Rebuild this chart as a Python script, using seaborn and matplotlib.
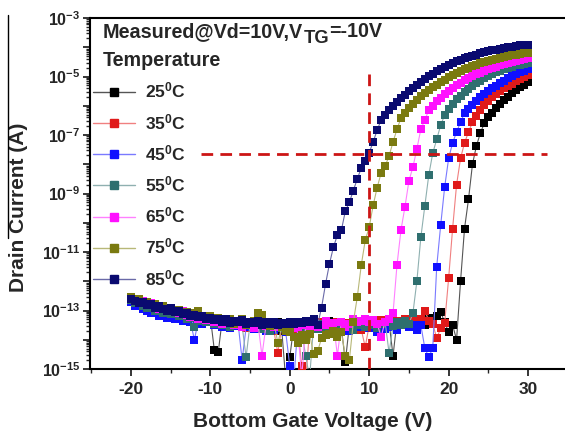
import numpy as np
import pandas as pd
import matplotlib
matplotlib.use("Agg")
import matplotlib.pyplot as plt
from matplotlib.lines import Line2D
from matplotlib.ticker import FixedLocator, LogLocator, NullFormatter, FixedFormatter
import seaborn as sns

# ---------------- data (log10 of drain current, A) ----------------
vg = np.arange(-20, 30.5, 0.5)  # bottom-gate sweep, 0.5 V step

temps = ["25", "35", "45", "55", "65", "75", "85"]

log_id_25 = [
    -12.62, -12.70, -12.78, -12.75, -12.85, -12.90, -12.82, -12.95, -13.00, -12.92,
    -13.05, -12.98, -13.10, -13.15, -13.05, -13.20, -13.12, -13.25, -13.18, -13.30,
    -13.22, -14.35, -14.42, -13.30, -13.40, -13.28, -13.45, -13.35, -13.30, -13.50,
    -13.42, -13.55, -13.38, -13.60, -13.45, -13.50, -13.65, -13.40, -13.70, -15.40,
    -14.60, -13.55, -13.60, -13.48, -13.70, -13.52, -13.45, -13.62, -13.50, -13.40,
    -13.35, -13.55, -13.48, -13.60, -14.75, -13.50, -13.40, -13.55, -13.62, -13.45,
    -13.50, -13.38, -13.55, -13.45, -13.60, -13.40, -14.55, -13.35, -13.48, -13.42,
    -13.40, -13.30, -13.45, -13.35, -13.50, -13.25, -13.38, -13.20, -13.05, -13.40,
    -13.75, -13.50, -14.00, -12.00, -10.20, -9.20, -8.00, -7.37, -6.93, -6.59,
    -6.40, -6.24, -6.09, -5.95, -5.82, -5.70, -5.58, -5.47, -5.37, -5.28,
    -5.19]

log_id_35 = [
    -12.58, -12.72, -12.68, -12.80, -12.88, -12.82, -12.95, -12.90, -13.02, -13.08,
    -13.00, -13.12, -13.18, -13.08, -13.22, -13.15, -13.28, -13.20, -13.35, -13.25,
    -13.30, -13.42, -13.35, -13.48, -13.40, -13.55, -13.38, -13.50, -13.45, -13.60,
    -13.48, -13.40, -13.58, -13.50, -13.65, -13.45, -13.70, -14.45, -13.55, -13.60,
    -13.50, -13.68, -13.55, -14.90, -15.40, -13.62, -13.48, -13.55, -13.40, -13.58,
    -13.45, -13.52, -13.38, -13.60, -13.50, -13.42, -13.55, -13.48, -13.65, -14.25,
    -13.50, -13.38, -13.45, -13.32, -13.50, -13.40, -13.28, -13.45, -13.35, -13.30,
    -13.42, -13.25, -13.38, -13.30, -13.00, -13.35, -13.45, -13.95, -13.60, -13.43,
    -11.90, -10.20, -8.70, -7.80, -7.27, -6.90, -6.56, -6.34, -6.15, -5.98,
    -5.83, -5.70, -5.59, -5.49, -5.40, -5.32, -5.24, -5.16, -5.09, -5.02,
    -4.95]

log_id_45 = [
    -12.70, -12.85, -12.80, -12.95, -13.00, -13.10, -13.05, -13.20, -13.15, -13.25,
    -13.18, -13.30, -13.22, -13.35, -13.28, -13.40, -14.00, -13.32, -13.45, -13.30,
    -13.38, -13.50, -13.42, -13.55, -13.48, -13.60, -13.52, -13.45, -14.70, -13.58,
    -13.50, -13.62, -13.45, -13.58, -13.70, -13.52, -13.65, -13.48, -13.60, -13.75,
    -14.90, -15.40, -13.60, -13.52, -13.68, -13.45, -13.58, -13.50, -13.62, -13.40,
    -13.55, -13.48, -13.62, -13.42, -13.55, -13.70, -13.50, -13.38, -13.55, -13.45,
    -13.60, -13.52, -13.75, -13.45, -13.62, -13.40, -13.55, -13.68, -13.50, -13.42,
    -13.55, -13.48, -13.65, -13.50, -14.28, -14.60, -14.28, -11.50, -10.08, -8.78,
    -7.80, -7.27, -6.90, -6.56, -6.25, -6.10, -5.96, -5.83, -5.71, -5.60,
    -5.50, -5.40, -5.31, -5.22, -5.14, -5.06, -4.99, -4.92, -4.86, -4.80,
    -4.74]

log_id_55 = [
    -12.65, -12.75, -12.70, -12.85, -12.92, -12.88, -13.00, -12.95, -13.08, -13.02,
    -13.12, -13.05, -13.20, -13.15, -13.30, -13.25, -13.55, -13.35, -13.28, -13.40,
    -13.32, -13.45, -13.38, -13.50, -13.42, -13.55, -13.48, -13.40, -13.52, -14.60,
    -13.45, -13.58, -13.50, -13.62, -13.48, -13.70, -13.55, -13.45, -13.60, -13.52,
    -13.65, -13.50, -13.58, -13.70, -14.55, -15.30, -13.50, -13.62, -13.45, -13.55,
    -13.48, -13.60, -13.52, -13.40, -13.58, -13.45, -13.65, -13.50, -13.38, -13.55,
    -13.42, -13.50, -13.60, -13.45, -13.38, -14.45, -13.52, -13.40, -13.48, -13.35,
    -13.45, -13.10, -12.00, -10.50, -9.43, -8.37, -7.62, -7.15, -6.66, -6.32,
    -6.10, -5.93, -5.78, -5.65, -5.53, -5.42, -5.32, -5.23, -5.14, -5.06,
    -4.99, -4.92, -4.86, -4.80, -4.75, -4.70, -4.66, -4.62, -4.59, -4.56,
    -4.54]

log_id_65 = [
    -12.55, -12.65, -12.72, -12.68, -12.80, -12.75, -12.88, -12.95, -12.85, -13.00,
    -12.95, -13.05, -13.10, -13.00, -13.15, -13.22, -13.12, -13.28, -13.20, -13.32,
    -13.25, -13.38, -13.30, -13.45, -13.40, -13.32, -13.50, -13.42, -13.55, -13.38,
    -13.48, -13.60, -13.45, -14.55, -13.52, -13.40, -13.58, -13.50, -13.42, -13.62,
    -13.55, -13.45, -13.60, -15.30, -13.50, -13.62, -13.40, -13.55, -13.48, -13.35,
    -13.50, -13.42, -14.55, -13.38, -13.55, -13.45, -13.30, -13.40, -13.35, -13.28,
    -13.40, -13.32, -13.45, -13.90, -13.38, -13.30, -13.10, -11.44, -10.25, -9.46,
    -8.57, -8.10, -7.48, -6.80, -6.49, -6.15, -6.00, -5.85, -5.72, -5.60,
    -5.49, -5.39, -5.30, -5.21, -5.13, -5.06, -4.99, -4.93, -4.87, -4.81,
    -4.76, -4.71, -4.66, -4.62, -4.58, -4.54, -4.50, -4.46, -4.43, -4.40,
    -4.37]

log_id_75 = [
    -12.55, -12.65, -12.62, -12.75, -12.70, -12.82, -12.78, -12.88, -12.85, -12.95,
    -12.90, -13.02, -12.98, -13.10, -13.05, -13.15, -13.10, -13.00, -13.20, -13.25,
    -13.18, -13.30, -13.25, -13.40, -13.32, -13.28, -13.45, -13.35, -13.30, -13.48,
    -13.40, -13.35, -13.10, -13.15, -13.38, -13.52, -13.42, -14.10, -13.55, -13.70,
    -13.75, -13.90, -14.10, -13.85, -14.00, -13.80, -14.50, -14.40, -13.95, -13.85,
    -13.80, -13.70, -13.90, -13.75, -14.55, -14.70, -13.40, -12.54, -11.45, -10.60,
    -10.15, -9.40, -8.80, -8.30, -8.06, -7.72, -7.24, -6.80, -6.42, -6.25,
    -6.08, -5.93, -5.80, -5.68, -5.57, -5.47, -5.37, -5.28, -5.19, -5.11,
    -5.03, -4.96, -4.89, -4.82, -4.76, -4.70, -4.65, -4.60, -4.55, -4.51,
    -4.47, -4.43, -4.39, -4.36, -4.33, -4.30, -4.27, -4.25, -4.23, -4.21,
    -4.19]

log_id_85 = [
    -12.60, -12.68, -12.75, -12.72, -12.82, -12.78, -12.90, -12.85, -12.95, -13.00,
    -12.92, -13.05, -13.00, -13.12, -13.08, -13.18, -13.15, -13.22, -13.20, -13.28,
    -13.25, -13.32, -13.28, -13.38, -13.30, -13.42, -13.35, -13.40, -13.32, -13.45,
    -13.38, -13.42, -13.35, -13.48, -13.40, -13.45, -13.38, -13.50, -13.42, -13.46,
    -13.40, -13.45, -13.38, -13.42, -13.35, -13.40, -13.30, -13.50, -12.90, -12.10,
    -11.40, -10.83, -10.42, -10.25, -9.60, -9.30, -8.90, -8.50, -8.13, -7.90,
    -7.60, -7.24, -6.83, -6.49, -6.32, -6.15, -6.00, -5.88, -5.74, -5.62,
    -5.50, -5.39, -5.28, -5.18, -5.08, -4.99, -4.90, -4.82, -4.74, -4.67,
    -4.60, -4.54, -4.48, -4.43, -4.38, -4.33, -4.29, -4.25, -4.21, -4.17,
    -4.14, -4.11, -4.08, -4.05, -4.03, -4.00, -3.98, -3.96, -3.94, -3.93,
    -3.92]

series = [log_id_25, log_id_35, log_id_45, log_id_55, log_id_65, log_id_75, log_id_85]

marker_colors = ["#000000", "#e01a1a", "#1010ff", "#2f6f6f", "#ff10ff", "#7a7a10", "#0a0a70"]
line_colors = ["#555555", "#f08080", "#7a7aff", "#8fb0b0", "#ff80ff", "#b8b878", "#6a6aa8"]

vth_marker = 10.0       # V
ith_marker = 2.2e-8     # A

xtick_vals = [-20, -10, 0, 10, 20, 30]
ytick_labels_exp = [-3, -5, -7, -9, -11, -13, -15]

# ---------------- build long table ----------------
frames = []
for t, vals in zip(temps, series):
    frames.append(pd.DataFrame({"Vg": vg, "Id": 10.0 ** np.array(vals), "T": t}))
df = pd.concat(frames, ignore_index=True)

# ---------------- figure ----------------
sns.set_style("ticks")
plt.rcParams["font.family"] = ["Liberation Sans", "DejaVu Sans"]
plt.rcParams["mathtext.fontset"] = "custom"
plt.rcParams["mathtext.rm"] = "Liberation Sans:bold"
plt.rcParams["mathtext.bf"] = "Liberation Sans:bold"
plt.rcParams["mathtext.it"] = "Liberation Sans:bold"

fig = plt.figure(figsize=(5.65, 4.34), dpi=100)
ax = fig.add_axes([90 / 565, (434 - 369) / 434, (565 - 90) / 565, (369 - 18) / 434])

for i, t in enumerate(temps):
    sub = df[df["T"] == t]
    sns.lineplot(data=sub, x="Vg", y="Id", ax=ax, color=line_colors[i], linewidth=0.8,
                 sort=False, legend=False, zorder=2 + i * 2)
    sns.lineplot(data=sub, x="Vg", y="Id", ax=ax, color=marker_colors[i], linestyle="none",
                 marker="s", markersize=5.8, markeredgewidth=0, sort=False, legend=False,
                 zorder=3 + i * 2)

ax.set_yscale("log")
ax.set_xlim(-25.15, 34.65)
ax.set_ylim(1e-15, 1e-3)

# dashed guide lines
ax.plot([-11.2, 32.4], [ith_marker, ith_marker], color="#cc1515", lw=2.0,
        linestyle=(0, (4.2, 2.6)), zorder=20)
ax.plot([vth_marker, vth_marker], [1e-15, 2e-5], color="#cc1515", lw=2.0,
        linestyle=(0, (4.2, 2.6)), zorder=20)

# ticks
ax.xaxis.set_major_locator(FixedLocator(xtick_vals))
ax.xaxis.set_minor_locator(FixedLocator([-25, -15, -5, 5, 15, 25]))
ax.set_xticklabels([str(v) for v in xtick_vals], fontsize=12.5, fontweight="bold")

ax.yaxis.set_major_locator(FixedLocator([10.0 ** e for e in range(-15, -2)]))
ax.yaxis.set_minor_locator(LogLocator(base=10, subs=np.arange(2, 10), numticks=50))
ax.yaxis.set_minor_formatter(NullFormatter())
ylabels = []
for e in range(-15, -2):
    ylabels.append(r"$\mathbf{10^{%d}}$" % e if e in ytick_labels_exp else "")
ax.yaxis.set_major_formatter(FixedFormatter(ylabels))
ax.tick_params(axis="y", which="major", labelsize=11.5, length=5, width=1.3, direction="out", pad=2)
ax.tick_params(axis="y", which="minor", length=3, width=1.0, direction="out")
ax.tick_params(axis="x", which="major", length=5, width=1.3, direction="out", pad=4.3)
ax.tick_params(axis="x", which="minor", length=3, width=1.0, direction="out")

for s in ["left", "bottom", "top"]:
    ax.spines[s].set_linewidth(1.5)
    ax.spines[s].set_color("black")
ax.spines["right"].set_visible(False)

ax.set_xlabel("Bottom Gate Voltage (V)", fontsize=15, fontweight="bold")
ax.set_ylabel("Drain Current (A)", fontsize=15, fontweight="bold")
ax.xaxis.set_label_coords(0.469, -0.1225)
ax.yaxis.set_label_coords(-0.1305, 0.46)

# annotation texts
t1 = ax.text((103 - 90) / 475, (369 - 41) / 351, "Measured@Vd=10V,V",
             transform=ax.transAxes, fontsize=14.2, fontweight="bold", ha="left", va="bottom")
t2 = ax.annotate("TG", xy=(1, 0), xycoords=t1, xytext=(0.3, -4.5), textcoords="offset points",
                 fontsize=13.2, fontweight="bold", ha="left", va="bottom")
t3 = ax.annotate("=-10V", xy=(1, 0), xycoords=t2, xytext=(0, 4.5), textcoords="offset points",
                 fontsize=14.2, fontweight="bold", ha="left", va="bottom")
ax.text((103 - 90) / 475, (369 - 60) / 351, "Temperature",
        transform=ax.transAxes, fontsize=14.2, fontweight="bold", ha="left", va="center")

handles = []
for i, t in enumerate(temps):
    handles.append(Line2D([0], [0], color=line_colors[i], lw=1.0, marker="s", markersize=6,
                          markerfacecolor=marker_colors[i], markeredgecolor=marker_colors[i]))
labels = [r"$\mathbf{%s^0C}$" % t for t in temps]
leg = ax.legend(handles, labels, loc="upper left",
                bbox_to_anchor=((93 - 90) / 475, (369 - 81) / 351),
                frameon=False, fontsize=12.5, handlelength=2.4, handletextpad=0.6,
                labelspacing=0.65, borderpad=0.0, borderaxespad=0.0)

# thin vertical artefact line at the left edge
fig.add_artist(Line2D([8 / 565, 8 / 565], [1 - 15 / 434, 1 - 238 / 434],
                      transform=fig.transFigure, color="black", lw=1.0))

fig.savefig("out.png", dpi=100)
